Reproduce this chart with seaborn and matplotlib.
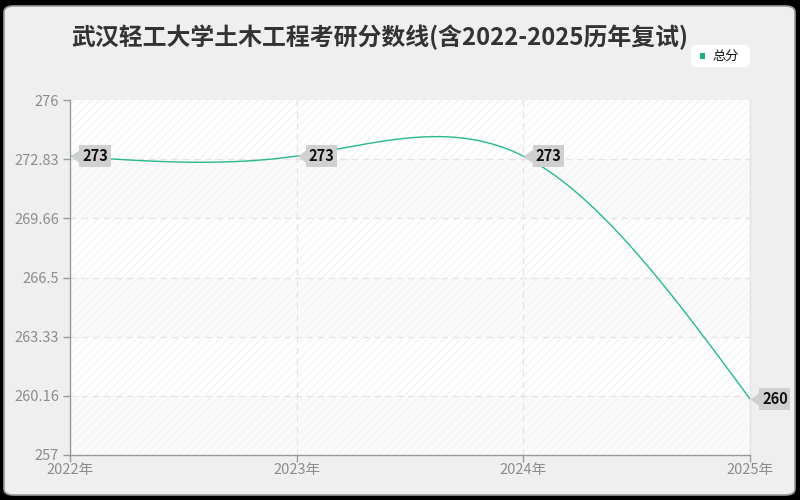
import numpy as np
import matplotlib
matplotlib.use("Agg")
import matplotlib.pyplot as plt
import seaborn as sns
import pandas as pd
from matplotlib.path import Path
from matplotlib.patches import FancyBboxPatch, Rectangle

years = [2022, 2023, 2024, 2025]
year_labels = ["2022年", "2023年", "2024年", "2025年"]
scores = [273, 273, 273, 260]
series_name = "总分"
title = "武汉轻工大学土木工程考研分数线(含2022-2025历年复试)"
y_ticks = [257, 260.16, 263.33, 266.5, 269.66, 272.83, 276]
y_tick_labels = ["257", "260.16", "263.33", "266.5", "269.66", "272.83", "276"]

sns.set_theme(style="white")
plt.rcParams['font.family'] = ['Noto Sans CJK SC', 'DejaVu Sans']
plt.rcParams['hatch.linewidth'] = 0.6

LINE = "#27b98b"
GRAY = "#999999"


def natural_spline(x, y, n=300):
    x = np.asarray(x, float)
    y = np.asarray(y, float)
    k = len(x)
    h = np.diff(x)
    A = np.zeros((k, k))
    b = np.zeros(k)
    A[0, 0] = 1
    A[-1, -1] = 1
    for i in range(1, k - 1):
        A[i, i - 1] = h[i - 1]
        A[i, i] = 2 * (h[i - 1] + h[i])
        A[i, i + 1] = h[i]
        b[i] = 6 * ((y[i + 1] - y[i]) / h[i] - (y[i] - y[i - 1]) / h[i - 1])
    M = np.linalg.solve(A, b)
    xs = np.linspace(x[0], x[-1], n)
    ys = np.empty_like(xs)
    for j, xv in enumerate(xs):
        i = min(np.searchsorted(x, xv, side="right") - 1, k - 2)
        t1 = x[i + 1] - xv
        t0 = xv - x[i]
        hi = h[i]
        ys[j] = (M[i] * t1 ** 3 / (6 * hi) + M[i + 1] * t0 ** 3 / (6 * hi)
                 + (y[i] / hi - M[i] * hi / 6) * t1 + (y[i + 1] / hi - M[i + 1] * hi / 6) * t0)
    return xs, ys


fig = plt.figure(figsize=(8, 5), dpi=100)
fig.patch.set_facecolor("#000000")
bg = FancyBboxPatch((4 / 800, 5 / 500), 791 / 800, 489 / 500,
                    boxstyle="round,pad=0,rounding_size=0.012",
                    transform=fig.transFigure, facecolor="#efefef",
                    edgecolor="#9a9a9a", linewidth=1.2, zorder=-10)
fig.patches.append(bg)

ax = fig.add_axes([70 / 800, 45 / 500, 680 / 800, 355 / 500])
ax.set_zorder(1)
ax.set_facecolor("none")

ylo, yhi = 257, 276
ax.set_xlim(years[0], years[-1])
ax.set_ylim(ylo, yhi)

# alternating background bands with hatch
for i in range(len(y_ticks) - 1):
    lo, hi_ = y_ticks[i], y_ticks[i + 1]
    light = (len(y_ticks) - 2 - i) % 2 == 0
    ax.add_patch(Rectangle((years[0], lo), years[-1] - years[0], hi_ - lo,
                           facecolor="#ffffff" if light else "#fafafa",
                           edgecolor="#eeeeee" if light else "#f3f3f3",
                           hatch="////", linewidth=0, zorder=0))

xs, ys = natural_spline(years, scores)
df = pd.DataFrame({"year": xs, "score": ys})
sns.lineplot(data=df, x="year", y="score", ax=ax, color=LINE, linewidth=1.0, zorder=3, legend=False)

# grid
for yt in y_ticks[1:-1]:
    ax.axhline(yt, color="#e3e3e3", linestyle=(0, (5, 4)), linewidth=0.9, zorder=1)
for xt in years[1:-1]:
    ax.axvline(xt, color="#e3e3e3", linestyle=(0, (5, 4)), linewidth=0.9, zorder=1)

ax.set_yticks(y_ticks)
ax.set_yticklabels(y_tick_labels)
ax.set_xticks(years)
ax.set_xticklabels(year_labels)
ax.tick_params(axis="both", colors=GRAY, labelcolor="#8c8c8c", labelsize=10.5,
               length=5, width=1, direction="out", bottom=True, left=True)
ax.tick_params(axis="y", pad=3)
ax.tick_params(axis="x", pad=1)
ax.set_xlabel("")
ax.set_ylabel("")
for s in ["left", "bottom"]:
    ax.spines[s].set_color(GRAY)
    ax.spines[s].set_linewidth(1.0)
ax.spines["top"].set_visible(False)
ax.spines["right"].set_color("#e4e4e4")
ax.spines["right"].set_linewidth(1.0)

# value tags
tag_marker = Path([(0, 0), (1, 0.72), (1, -0.72), (0, 0)])
for x, v in zip(years, scores):
    ax.plot([x], [v], marker=tag_marker, markersize=16, color="#d0d0d0",
            markeredgewidth=0, clip_on=False, zorder=5)
    ax.annotate(str(v), xy=(x, v), xytext=(12, 0), textcoords="offset pixels",
                ha="left", va="center", fontsize=10.5, fontweight="bold", color="#111111",
                bbox=dict(boxstyle="square,pad=0.18", facecolor="#d0d0d0", edgecolor="none"),
                annotation_clip=False, zorder=6)

# title
fig.text(71 / 800, 1 - 37 / 500, title, ha="left", va="center", fontsize=17.2,
         fontweight="bold", color="#333333")

# legend
fig.patches.append(FancyBboxPatch((691 / 800, 1 - 67 / 500), 59 / 800, 22 / 500,
                                  boxstyle="round,pad=0,rounding_size=0.008",
                                  transform=fig.transFigure, facecolor="#ffffff",
                                  edgecolor="none", zorder=2))
fig.patches.append(Rectangle((700 / 800, 1 - 58.5 / 500), 5 / 800, 5 / 500,
                             transform=fig.transFigure, facecolor="#16b17e",
                             edgecolor="none", zorder=3))
fig.text(712 / 800, 1 - 56 / 500, series_name, ha="left", va="center", fontsize=9.5,
         color="#111111", fontweight="medium", zorder=4)

fig.savefig("out.png", dpi=100, facecolor=fig.get_facecolor())
